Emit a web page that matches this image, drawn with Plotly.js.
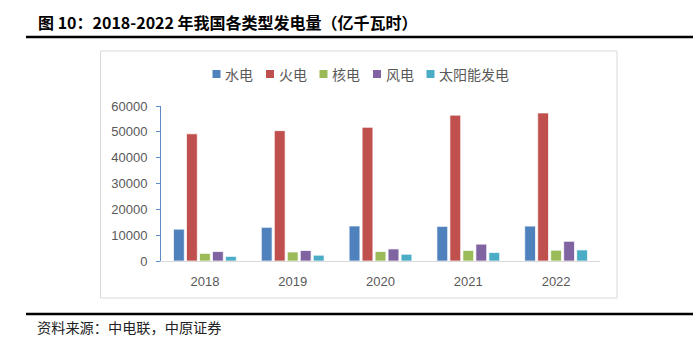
<!DOCTYPE html>
<html>
<head>
<meta charset="utf-8">
<script src="https://cdn.plot.ly/plotly-3.0.1.min.js"></script>
<style>html,body{margin:0;padding:0;background:#fff;}#chart{width:699px;height:343px;}</style>
</head>
<body>
<div id="chart"></div>
<script>
const years = ['2018', '2019', '2020', '2021', '2022'];
const seriesNames = ['水电', '火电', '核电', '风电', '太阳能发电'];
const hydro = [12321, 13044, 13552, 13401, 13522];
const thermal = [49231, 50465, 51743, 56463, 57307];
const nuclear = [2944, 3487, 3662, 4075, 4178];
const wind = [3660, 4057, 4665, 6526, 7627];
const solar = [1775, 2243, 2611, 3270, 4276];
const colors = ['#4F81BD', '#C0504D', '#9BBB59', '#8064A2', '#4BACC6'];
const yTicks = [0, 10000, 20000, 30000, 40000, 50000, 60000];
const titleText = '图 10：2018-2022 年我国各类型发电量（亿千瓦时）';
const sourceText = '资料来源：中电联，中原证券';

const seriesValues = [hydro, thermal, nuclear, wind, solar];

// pixel -> paper helpers (plot area: x 161..600, y 106..261)
const PL = 161, PR = 600, PT = 106, PB = 261;
const px = v => (v - PL) / (PR - PL);
const py = v => (PB - v) / (PB - PT);

const traces = seriesNames.map((n, i) => ({
  type: 'bar', name: n, x: years, y: seriesValues[i],
  marker: {color: colors[i], line: {color: 'rgba(255,255,255,0.7)', width: 1}},
  hoverinfo: 'x+y+name'
}));

const shapes = [];
const annotations = [];

// frame
shapes.push({type: 'rect', xref: 'paper', yref: 'paper', x0: px(100.5), x1: px(617), y0: py(298), y1: py(51),
  line: {color: '#D9D9D9', width: 1}, fillcolor: 'rgba(0,0,0,0)', layer: 'below'});
// header and footer rules
shapes.push({type: 'line', xref: 'paper', yref: 'paper', x0: px(26), x1: px(693), y0: py(37), y1: py(37), line: {color: '#000', width: 2.5}});
shapes.push({type: 'line', xref: 'paper', yref: 'paper', x0: px(26), x1: px(693), y0: py(314), y1: py(314), line: {color: '#000', width: 2.5}});

// title & source
annotations.push({xref: 'paper', yref: 'paper', x: px(36), y: py(22), xanchor: 'left', yanchor: 'middle', showarrow: false,
  text: '<b>' + titleText + '</b>', font: {family: 'Noto Sans CJK SC', size: 16, color: '#000'}});
annotations.push({xref: 'paper', yref: 'paper', x: px(35), y: py(327), xanchor: 'left', yanchor: 'middle', showarrow: false,
  text: sourceText, font: {family: 'Noto Sans CJK SC', size: 14.2, color: '#222'}});

// legend (built from series names / colors)
let lx = 212.5;
const ly = 74;
seriesNames.forEach((n, i) => {
  shapes.push({type: 'rect', xref: 'paper', yref: 'paper', x0: px(lx), x1: px(lx + 8), y0: py(ly + 4), y1: py(ly - 4),
    line: {width: 0}, fillcolor: colors[i]});
  annotations.push({xref: 'paper', yref: 'paper', x: px(lx + 10.5), y: py(ly), xanchor: 'left', yanchor: 'middle', showarrow: false,
    text: n, font: {family: 'Noto Sans CJK SC', size: 14, color: '#595959'}});
  lx = lx + 11.5 + n.length * 14 + 14;
});

const layout = {
  width: 699, height: 343,
  margin: {l: PL, r: 699 - PR, t: PT, b: 343 - PB, pad: 0},
  paper_bgcolor: '#fff', plot_bgcolor: '#fff',
  showlegend: false,
  barmode: 'group', bargap: 0.26, bargroupgap: 0.17,
  xaxis: {type: 'category', showline: true, linecolor: '#D9D9D9', linewidth: 1, ticks: '', showgrid: false,
    tickfont: {family: 'Liberation Sans', size: 13, color: '#595959'}, ticklabelstandoff: 8, fixedrange: true},
  yaxis: {range: [0, 60000], tickvals: yTicks, ticktext: yTicks.map(String), showline: true, linecolor: '#5B8BC9', linewidth: 1,
    ticks: 'outside', ticklen: 4, tickcolor: '#5B8BC9', showgrid: false, zeroline: false,
    tickfont: {family: 'Liberation Sans', size: 13, color: '#595959'}, ticklabelstandoff: 6, fixedrange: true},
  shapes: shapes, annotations: annotations,
  font: {family: 'Noto Sans CJK SC'}
};

Plotly.newPlot('chart', traces, layout, {displayModeBar: false, staticPlot: true});
</script>
</body>
</html>
